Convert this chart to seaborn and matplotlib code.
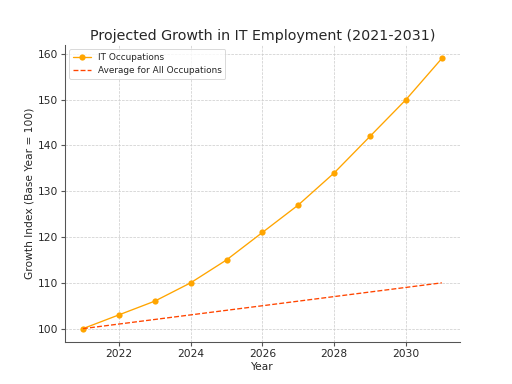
import matplotlib
matplotlib.use("Agg")
import matplotlib.pyplot as plt
import seaborn as sns
import pandas as pd

years = [2021, 2022, 2023, 2024, 2025, 2026, 2027, 2028, 2029, 2030, 2031]
it_growth = [100, 103, 106, 110, 115, 121, 127, 134, 142, 150, 159]
avg_growth = [100, 101, 102, 103, 104, 105, 106, 107, 108, 109, 110]

sns.set_theme(style="whitegrid")
plt.rcParams['font.family'] = ['DejaVu Sans']

df = pd.DataFrame({"Year": years, "IT": it_growth, "Avg": avg_growth})

fig, ax = plt.subplots(figsize=(8, 6), dpi=64)
fig.subplots_adjust(left=0.127, right=0.898, top=0.883, bottom=0.109)

sns.lineplot(data=df, x="Year", y="IT", ax=ax, color="orange", marker="o",
             markersize=7, markeredgewidth=0, linewidth=1.5, label="IT Occupations")
sns.lineplot(data=df, x="Year", y="Avg", ax=ax, color="orangered", linestyle="--",
             linewidth=1.5, label="Average for All Occupations")

ax.set_title("Projected Growth in IT Employment (2021-2031)", fontsize=16, pad=6)
ax.set_xlabel("Year", fontsize=12)
ax.set_ylabel("Growth Index (Base Year = 100)", fontsize=12)
ax.tick_params(labelsize=12, length=4, color="#555555", left=True, bottom=True)
ax.set_xticks([2022, 2024, 2026, 2028, 2030])
ax.set_yticks([100, 110, 120, 130, 140, 150, 160])

ax.set_facecolor("white")
ax.grid(True, linestyle="--", color="#cccccc", linewidth=0.8)
for s in ["top", "right"]:
    ax.spines[s].set_visible(False)
for s in ["left", "bottom"]:
    ax.spines[s].set_color("#555555")
    ax.spines[s].set_linewidth(1.2)

ax.legend(loc="upper left", fontsize=10, frameon=True)
fig.savefig("out.png", dpi=64)
